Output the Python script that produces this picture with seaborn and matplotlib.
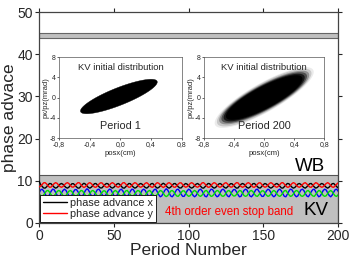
import numpy as np
import pandas as pd
import matplotlib
matplotlib.use("Agg")
import matplotlib.pyplot as plt
import seaborn as sns

sns.set_style("ticks")
plt.rcParams['font.family'] = ['Liberation Sans', 'DejaVu Sans']

periods = list(range(0, 201))

phase_x = [9.9, 9.1, 8.7, 8.3, 8.25, 8.55, 9.0, 9.35, 9.3, 8.9, 8.5, 8.25, 8.4, 8.8, 9.2,
           9.35, 9.15, 8.75, 8.4, 8.25, 8.5, 8.95, 9.3, 9.3, 8.95, 8.55, 8.25, 8.3, 8.75, 9.15,
           9.4, 9.2, 8.8, 8.4, 8.25, 8.5, 8.9, 9.3, 9.35, 9.0, 8.6, 8.3, 8.3, 8.7, 9.1,
           9.35, 9.3, 8.85, 8.45, 8.25, 8.45, 8.85, 9.2, 9.35, 9.1, 8.7, 8.3, 8.25, 8.6, 9.0,
           9.35, 9.3, 8.9, 8.5, 8.25, 8.4, 8.8, 9.2, 9.35, 9.15, 8.75, 8.4, 8.25, 8.55, 8.95,
           9.3, 9.35, 8.95, 8.55, 8.25, 8.4, 8.75, 9.15, 9.4, 9.2, 8.8, 8.4, 8.25, 8.5, 8.9,
           9.3, 9.35, 9.0, 8.6, 8.3, 8.3, 8.7, 9.1, 9.35, 9.2, 8.85, 8.45, 8.25, 8.45, 8.85,
           9.2, 9.35, 9.1, 8.7, 8.3, 8.25, 8.6, 9.0, 9.35, 9.3, 8.9, 8.5, 8.25, 8.4, 8.8,
           9.2, 9.35, 9.15, 8.75, 8.4, 8.25, 8.55, 8.95, 9.3, 9.3, 8.95, 8.55, 8.25, 8.3, 8.75,
           9.15, 9.35, 9.2, 8.8, 8.4, 8.25, 8.5, 8.9, 9.3, 9.35, 9.0, 8.6, 8.3, 8.3, 8.7,
           9.1, 9.35, 9.2, 8.85, 8.45, 8.25, 8.45, 8.85, 9.2, 9.35, 9.1, 8.7, 8.3, 8.25, 8.6,
           9.0, 9.35, 9.3, 8.9, 8.5, 8.25, 8.4, 8.8, 9.2, 9.35, 9.15, 8.75, 8.4, 8.25, 8.55,
           8.95, 9.3, 9.35, 8.95, 8.55, 8.25, 8.4, 8.75, 9.15, 9.35, 9.2, 8.8, 8.45, 8.25, 8.5,
           8.9, 9.3, 9.35, 9.0, 8.6, 8.3]

phase_y = [8.6, 8.7, 9.1, 9.5, 9.55, 9.25, 8.8, 8.45, 8.5, 8.9, 9.3, 9.55, 9.4, 9.0, 8.6,
           8.45, 8.65, 9.05, 9.4, 9.55, 9.3, 8.85, 8.5, 8.5, 8.85, 9.25, 9.55, 9.5, 9.05, 8.65,
           8.4, 8.6, 9.0, 9.4, 9.55, 9.3, 8.9, 8.5, 8.45, 8.8, 9.2, 9.5, 9.5, 9.1, 8.7,
           8.45, 8.5, 8.95, 9.35, 9.55, 9.35, 8.95, 8.6, 8.45, 8.7, 9.1, 9.5, 9.55, 9.2, 8.8,
           8.45, 8.5, 8.9, 9.3, 9.55, 9.4, 9.0, 8.6, 8.45, 8.65, 9.05, 9.4, 9.55, 9.25, 8.85,
           8.5, 8.45, 8.85, 9.25, 9.55, 9.4, 9.05, 8.65, 8.4, 8.6, 9.0, 9.4, 9.55, 9.3, 8.9,
           8.5, 8.45, 8.8, 9.2, 9.5, 9.5, 9.1, 8.7, 8.45, 8.6, 8.95, 9.35, 9.55, 9.35, 8.95,
           8.6, 8.45, 8.7, 9.1, 9.5, 9.55, 9.2, 8.8, 8.45, 8.5, 8.9, 9.3, 9.55, 9.4, 9.0,
           8.6, 8.45, 8.65, 9.05, 9.4, 9.55, 9.25, 8.85, 8.5, 8.5, 8.85, 9.25, 9.55, 9.5, 9.05,
           8.65, 8.45, 8.6, 9.0, 9.4, 9.55, 9.3, 8.9, 8.5, 8.45, 8.8, 9.2, 9.5, 9.5, 9.1,
           8.7, 8.45, 8.6, 8.95, 9.35, 9.55, 9.35, 8.95, 8.6, 8.45, 8.7, 9.1, 9.5, 9.55, 9.2,
           8.8, 8.45, 8.5, 8.9, 9.3, 9.55, 9.4, 9.0, 8.6, 8.45, 8.65, 9.05, 9.4, 9.55, 9.25,
           8.85, 8.5, 8.45, 8.85, 9.25, 9.55, 9.4, 9.05, 8.65, 8.45, 8.6, 9.0, 9.35, 9.55, 9.3,
           8.9, 8.5, 8.45, 8.8, 9.2, 9.5]

phase_blue = [7.1, 7.8, 8.0, 7.6, 6.9, 6.3, 6.2, 6.7, 7.5, 8.0, 7.9, 7.3, 6.6, 6.2, 6.4,
              7.1, 7.7, 8.0, 7.7, 7.0, 6.4, 6.2, 6.6, 7.4, 7.9, 7.9, 7.4, 6.7, 6.2, 6.3,
              7.0, 7.7, 8.1, 7.8, 7.1, 6.4, 6.2, 6.6, 7.3, 7.9, 8.0, 7.5, 6.8, 6.3, 6.3,
              6.9, 7.6, 8.0, 7.9, 7.2, 6.5, 6.2, 6.5, 7.2, 7.8, 8.0, 7.6, 6.9, 6.3, 6.2,
              6.8, 7.5, 8.0, 7.9, 7.3, 6.6, 6.2, 6.4, 7.1, 7.8, 8.0, 7.7, 7.0, 6.4, 6.2,
              6.7, 7.4, 7.9, 8.0, 7.4, 6.7, 6.2, 6.4, 7.0, 7.7, 8.1, 7.8, 7.1, 6.4, 6.2,
              6.6, 7.3, 7.9, 8.0, 7.5, 6.8, 6.3, 6.3, 6.9, 7.6, 8.0, 7.8, 7.2, 6.5, 6.2,
              6.5, 7.2, 7.8, 8.0, 7.6, 6.9, 6.3, 6.2, 6.8, 7.5, 8.0, 7.9, 7.3, 6.6, 6.2,
              6.4, 7.1, 7.8, 8.0, 7.7, 7.0, 6.4, 6.2, 6.7, 7.4, 7.9, 7.9, 7.4, 6.7, 6.2,
              6.3, 7.0, 7.7, 8.0, 7.8, 7.1, 6.4, 6.2, 6.6, 7.3, 7.9, 8.0, 7.5, 6.8, 6.3,
              6.3, 6.9, 7.6, 8.0, 7.8, 7.2, 6.5, 6.2, 6.5, 7.2, 7.8, 8.0, 7.6, 6.9, 6.3,
              6.2, 6.8, 7.5, 8.0, 7.9, 7.3, 6.6, 6.2, 6.4, 7.1, 7.8, 8.0, 7.7, 7.0, 6.4,
              6.2, 6.7, 7.4, 7.9, 8.0, 7.4, 6.7, 6.2, 6.4, 7.0, 7.7, 8.0, 7.8, 7.1, 6.5,
              6.2, 6.6, 7.3, 7.9, 8.0, 7.5]

phase_green = [7.0, 6.45, 6.3, 6.6, 7.15, 7.6, 7.7, 7.3, 6.7, 6.3, 6.4, 6.85, 7.4, 7.7, 7.55,
               7.0, 6.5, 6.3, 6.5, 7.1, 7.55, 7.7, 7.4, 6.75, 6.4, 6.4, 6.75, 7.3, 7.7, 7.6,
               7.1, 6.5, 6.25, 6.45, 7.0, 7.55, 7.7, 7.4, 6.85, 6.4, 6.3, 6.7, 7.2, 7.6, 7.6,
               7.15, 6.6, 6.3, 6.4, 6.9, 7.45, 7.7, 7.45, 6.9, 6.45, 6.3, 6.6, 7.15, 7.6, 7.7,
               7.2, 6.7, 6.3, 6.4, 6.85, 7.4, 7.7, 7.55, 7.0, 6.45, 6.3, 6.5, 7.1, 7.55, 7.7,
               7.3, 6.75, 6.4, 6.3, 6.75, 7.3, 7.7, 7.55, 7.1, 6.5, 6.25, 6.45, 7.0, 7.55, 7.7,
               7.4, 6.85, 6.4, 6.3, 6.7, 7.2, 7.6, 7.6, 7.15, 6.6, 6.3, 6.45, 6.9, 7.45, 7.7,
               7.45, 6.9, 6.45, 6.3, 6.6, 7.15, 7.6, 7.7, 7.2, 6.7, 6.3, 6.4, 6.85, 7.4, 7.7,
               7.55, 7.0, 6.45, 6.3, 6.5, 7.1, 7.55, 7.7, 7.3, 6.75, 6.4, 6.4, 6.75, 7.3, 7.7,
               7.6, 7.1, 6.5, 6.3, 6.45, 7.0, 7.55, 7.7, 7.4, 6.85, 6.4, 6.3, 6.7, 7.2, 7.6,
               7.6, 7.15, 6.6, 6.3, 6.45, 6.9, 7.45, 7.7, 7.45, 6.9, 6.45, 6.3, 6.6, 7.15, 7.6,
               7.7, 7.2, 6.7, 6.3, 6.4, 6.85, 7.4, 7.7, 7.55, 7.0, 6.45, 6.3, 6.5, 7.1, 7.55,
               7.7, 7.3, 6.75, 6.4, 6.3, 6.75, 7.3, 7.7, 7.55, 7.1, 6.5, 6.3, 6.45, 7.0, 7.45,
               7.7, 7.4, 6.85, 6.4, 6.3, 6.7]

series_labels = ["phase advance x", "phase advance y"]
series_colors = ["black", "red", "blue", "#00e000"]

# stop-band regions (y ranges)
band_top = [43.8, 45.0]
band_bottom = [0.0, 11.3]

# inset phase-space ellipses: x amplitude (cm), y amplitude (mrad), correlation, centre x, centre y
kv1_ellipse = [0.50, 3.4, 0.84, -0.02, 0.2]
kv200_layers_amp_x = [0.66, 0.63, 0.60, 0.57, 0.54, 0.51]
kv200_layers_amp_y = [6.0, 5.7, 5.3, 5.0, 4.7, 4.4]
kv200_layers_alpha = [0.08, 0.15, 0.28, 0.45, 0.7, 1.0]
kv200_corr = 0.84

inset_xticks = [-0.8, -0.4, 0.0, 0.4, 0.8]
inset_yticks = [-8, -4, 0, 4, 8]

fig = plt.figure(figsize=(3.49, 2.58), dpi=100)
ax = fig.add_axes([0.112, 0.136, 0.857, 0.817])

ax.axhspan(band_top[0], band_top[1], facecolor="#c0c0c0", edgecolor="#666666", lw=0.8, zorder=0)
ax.axhspan(band_bottom[0], band_bottom[1], facecolor="#c0c0c0", edgecolor="#555555", lw=0.8, zorder=0)

df = pd.DataFrame({"period": periods, "x": phase_x, "y": phase_y,
                   "b": phase_blue, "g": phase_green})
sns.lineplot(data=df, x="period", y="b", color=series_colors[2], lw=1.0, ax=ax, zorder=2)
sns.lineplot(data=df, x="period", y="g", color=series_colors[3], lw=1.0, ax=ax, zorder=2)
sns.lineplot(data=df, x="period", y="x", color=series_colors[0], lw=1.0, ax=ax, zorder=3, label=series_labels[0])
sns.lineplot(data=df, x="period", y="y", color=series_colors[1], lw=1.0, ax=ax, zorder=3, label=series_labels[1])

ax.set_xlim(0, 200)
ax.set_ylim(0, 50)
ax.set_xticks([0, 50, 100, 150, 200])
ax.set_yticks([0, 10, 20, 30, 40, 50])
ax.set_xlabel("Period Number", fontsize=12.5, labelpad=0)
ax.set_ylabel("phase advace", fontsize=12.5, labelpad=0)
ax.tick_params(axis="both", labelsize=10, length=3, width=0.8, pad=1.5)
ax.tick_params(top=True, right=True, direction="in", which="both")
ax.tick_params(axis="x", which="major", bottom=True, direction="out")
ax.tick_params(axis="y", which="major", left=True, direction="out")
for s in ax.spines.values():
    s.set_color("#444444")
    s.set_linewidth(0.9)

leg = ax.legend(loc="lower left", fontsize=7.8, frameon=True, fancybox=False,
                edgecolor="black", framealpha=1, handlelength=2.2, borderpad=0.25,
                labelspacing=0.1, borderaxespad=0.1, handletextpad=0.3)
leg.get_frame().set_linewidth(0.6)

ax.text(127, 2.6, "4th order even stop band", color="red", fontsize=8.3, ha="center", va="center")
ax.text(181, 13.3, "WB", color="black", fontsize=13.5, ha="center", va="center")
ax.text(185, 3.0, "KV", color="black", fontsize=13.5, ha="center", va="center")

t = np.linspace(0, 2 * np.pi, 200)


def ellipse_xy(ax_amp, ay_amp, corr, cx, cy):
    phi = np.arccos(corr)
    return cx + ax_amp * np.cos(t), cy + ay_amp * np.cos(t - phi)


def style_inset(a, label):
    a.set_xlim(-0.8, 0.8)
    a.set_ylim(-8, 8)
    a.set_xticks(inset_xticks)
    a.set_yticks(inset_yticks)
    a.set_xticklabels([f"{v:.1f}".replace(".", ",") for v in inset_xticks])
    a.set_yticklabels([str(v) for v in inset_yticks])
    a.tick_params(labelsize=5, length=1.5, width=0.5, pad=1)
    a.set_xlabel("posx(cm)", fontsize=5.5, labelpad=1)
    a.set_ylabel("px/pz(mrad)", fontsize=5.5, labelpad=0)
    for s in a.spines.values():
        s.set_linewidth(0.5)
        s.set_color("#555555")
    a.text(0.0, 6.0, "KV initial distribution", fontsize=6.8, ha="center", va="center")
    a.text(0.0, -5.6, label, fontsize=7.8, ha="center", va="center")


in1 = fig.add_axes([0.169, 0.465, 0.352, 0.314])
ex, ey = ellipse_xy(*kv1_ellipse)
in1.fill(ex, ey, color="black", lw=0.3)
style_inset(in1, "Period 1")

in2 = fig.add_axes([0.585, 0.465, 0.344, 0.314])
for axp, ayp, al in zip(kv200_layers_amp_x, kv200_layers_amp_y, kv200_layers_alpha):
    ex, ey = ellipse_xy(axp, ayp, kv200_corr, 0.0, 0.0)
    in2.fill(ex, ey, color="black", alpha=al, lw=0)
style_inset(in2, "Period 200")

fig.savefig("out.png", dpi=100)
